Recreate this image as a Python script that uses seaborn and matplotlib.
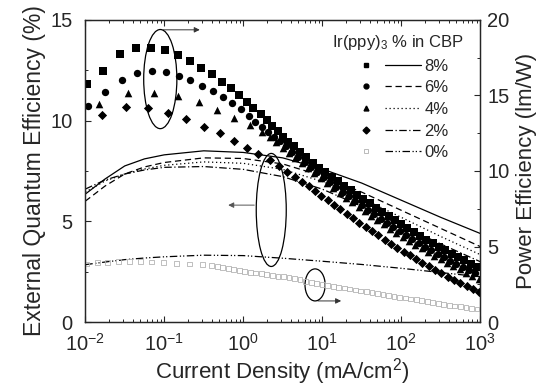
import numpy as np
import pandas as pd
import matplotlib
matplotlib.use("Agg")
import matplotlib.pyplot as plt
import seaborn as sns
from matplotlib.patches import Ellipse
from matplotlib.lines import Line2D
from matplotlib.legend_handler import HandlerTuple
from matplotlib.ticker import MultipleLocator, LogLocator, NullFormatter

# ---------------- data (log10 of current density in mA/cm2) ----------------
# EQE curves (left axis, %)
logj_eqe = [-2, -1.75, -1.5, -1.25, -1, -0.5, 0, 0.5, 1, 1.5, 2, 2.5, 3]
eqe_8 = [6.35, 7.1, 7.75, 8.1, 8.3, 8.5, 8.42, 8.15, 7.6, 6.9, 6.05, 5.2, 4.4]
eqe_6 = [6.0, 6.75, 7.35, 7.7, 7.92, 8.15, 8.12, 7.85, 7.25, 6.45, 5.55, 4.65, 3.75]
eqe_4 = [6.45, 7.0, 7.35, 7.6, 7.78, 7.95, 7.88, 7.58, 6.98, 6.15, 5.2, 4.25, 3.35]
eqe_2 = [6.6, 7.05, 7.35, 7.55, 7.68, 7.72, 7.58, 7.22, 6.6, 5.75, 4.8, 3.88, 3.0]
eqe_0 = [2.85, 2.98, 3.1, 3.18, 3.24, 3.32, 3.3, 3.17, 3.02, 2.86, 2.67, 2.46, 2.25]

# power efficiency points (right axis, lm/W)
logj_pe8 = [-1.98, -1.77, -1.56, -1.36, -1.17, -0.99, -0.83, -0.68, -0.53, -0.40,
            -0.27, -0.16, -0.05, 0.05, 0.13, 0.22, 0.30, 0.36, 0.44, 0.51, 0.57,
            0.64, 0.72, 0.80, 0.88, 0.96, 1.04, 1.12, 1.20, 1.28, 1.36, 1.44, 1.52,
            1.60, 1.68, 1.76, 1.84, 1.92, 2.00, 2.08, 2.16, 2.24, 2.32, 2.40, 2.48,
            2.56, 2.64, 2.72, 2.80, 2.88, 2.96]
pe_8 = [15.76, 16.62, 17.73, 18.13, 18.13, 17.99, 17.68, 17.28, 16.84, 16.42,
        15.91, 15.48, 15.03, 14.59, 14.19, 13.77, 13.38, 13.00, 12.65, 12.27, 11.94,
        11.62, 11.26, 10.90, 10.56, 10.22, 9.92, 9.62, 9.32, 9.02, 8.72, 8.43, 8.14,
        7.86, 7.58, 7.30, 7.02, 6.75, 6.48, 6.22, 5.96, 5.71, 5.46, 5.22, 4.98,
        4.75, 4.52, 4.30, 4.08, 3.87, 3.66]

logj_pe6 = [-1.96, -1.75, -1.54, -1.35, -1.16, -0.98, -0.81, -0.67, -0.52, -0.38,
            -0.26, -0.14, -0.03, 0.07, 0.15, 0.24, 0.32, 0.39, 0.46, 0.54, 0.62,
            0.70, 0.78, 0.86, 0.94, 1.02, 1.10, 1.18, 1.26, 1.34, 1.42, 1.50, 1.58,
            1.66, 1.74, 1.82, 1.90, 1.98, 2.06, 2.14, 2.22, 2.30, 2.38, 2.46, 2.54,
            2.62, 2.70, 2.78, 2.86, 2.94]
pe_6 = [14.30, 15.23, 16.03, 16.51, 16.62, 16.56, 16.29, 16.03, 15.65, 15.30,
        14.88, 14.52, 14.09, 13.64, 13.26, 12.93, 12.60, 12.27, 11.96, 11.62, 11.28,
        10.94, 10.60, 10.26, 9.93, 9.60, 9.28, 8.96, 8.64, 8.33, 8.02, 7.72, 7.42,
        7.13, 6.84, 6.56, 6.28, 6.01, 5.75, 5.49, 5.24, 4.99, 4.75, 4.52, 4.29,
        4.07, 3.85, 3.64, 3.44, 3.24]

logj_pe4 = [-1.83, -1.46, -1.13, -0.82, -0.56, -0.33, -0.12, 0.08, 0.24, 0.34,
            0.42, 0.50, 0.58, 0.66, 0.74, 0.82, 0.90, 0.98, 1.06, 1.14, 1.22, 1.30,
            1.38, 1.46, 1.54, 1.62, 1.70, 1.78, 1.86, 1.94, 2.02, 2.10, 2.18, 2.26,
            2.34, 2.42, 2.50, 2.58, 2.66, 2.74, 2.82, 2.90, 2.98]
pe_4 = [14.44, 15.15, 15.19, 14.99, 14.55, 14.04, 13.49, 13.05, 12.60, 12.25,
        11.90, 11.55, 11.20, 10.86, 10.52, 10.18, 9.85, 9.52, 9.19, 8.87, 8.55, 8.24,
        7.93, 7.63, 7.33, 7.04, 6.75, 6.47, 6.19, 5.92, 5.65, 5.39, 5.13, 4.88,
        4.63, 4.39, 4.16, 3.93, 3.71, 3.49, 3.28, 3.07, 2.87]

logj_pe2 = [-1.79, -1.49, -1.21, -0.95, -0.72, -0.50, -0.30, -0.12, 0.05, 0.19,
            0.34, 0.45, 0.55, 0.66, 0.75, 0.83, 0.91, 0.99, 1.07, 1.15, 1.23, 1.31,
            1.39, 1.47, 1.55, 1.63, 1.71, 1.79, 1.87, 1.95, 2.03, 2.11, 2.19, 2.27,
            2.35, 2.43, 2.51, 2.59, 2.67, 2.75, 2.83, 2.91, 2.99]
pe_2 = [13.71, 14.26, 14.15, 13.86, 13.44, 12.93, 12.50, 11.99, 11.54, 11.11,
        10.73, 10.33, 9.95, 9.62, 9.28, 8.98, 8.67, 8.36, 8.06, 7.76, 7.46, 7.16,
        6.87, 6.58, 6.29, 6.01, 5.73, 5.46, 5.19, 4.93, 4.67, 4.42, 4.17, 3.93,
        3.69, 3.46, 3.23, 3.01, 2.80, 2.59, 2.39, 2.20, 2.02]

logj_pe0 = [-1.98, -1.85, -1.72, -1.58, -1.44, -1.30, -1.16, -1.01, -0.84, -0.68,
            -0.52, -0.40, -0.33, -0.26, -0.19, -0.12, -0.05, 0.02, 0.09, 0.16, 0.23,
            0.30, 0.37, 0.44, 0.51, 0.58, 0.65, 0.72, 0.79, 0.86, 0.93, 1.00, 1.07,
            1.14, 1.21, 1.28, 1.35, 1.42, 1.49, 1.56, 1.63, 1.70, 1.77, 1.84, 1.91,
            1.98, 2.05, 2.12, 2.19, 2.26, 2.33, 2.40, 2.47, 2.54, 2.61, 2.68, 2.75,
            2.82, 2.89, 2.96]
pe_0 = [3.85, 3.92, 3.97, 4.00, 4.01, 4.00, 3.98, 3.94, 3.89, 3.84,
        3.79, 3.75, 3.68, 3.61, 3.54, 3.47, 3.41, 3.35, 3.30, 3.25, 3.20,
        3.14, 3.09, 3.04, 2.99, 2.93, 2.88, 2.80, 2.71, 2.63, 2.56, 2.49, 2.43,
        2.37, 2.31, 2.25, 2.19, 2.12, 2.06, 2.00, 1.95, 1.89, 1.83, 1.77, 1.71,
        1.65, 1.59, 1.53, 1.47, 1.41, 1.35, 1.29, 1.23, 1.17, 1.12, 1.07, 1.02,
        0.97, 0.92, 0.87]

doping = ["8%", "6%", "4%", "2%", "0%"]

# ---------------- style ----------------
sns.set_style("ticks")
plt.rcParams["font.family"] = ["Liberation Sans", "DejaVu Sans"]
plt.rcParams["mathtext.fontset"] = "custom"
plt.rcParams["mathtext.rm"] = "Liberation Sans"
plt.rcParams["mathtext.it"] = "Liberation Sans:italic"
plt.rcParams["axes.linewidth"] = 0.9

fig, ax = plt.subplots(figsize=(5.5, 3.89), dpi=100)
fig.subplots_adjust(left=0.155, right=0.873, bottom=0.172, top=0.949)
ax2 = ax.twinx()

line_styles = {
    "8%": "-",
    "6%": (0, (5, 3)),
    "4%": (0, (1, 2.2)),
    "2%": (0, (6, 2, 1, 2)),
    "0%": (0, (6, 2, 1, 1.6, 1, 2)),
}
eqe_data = {"8%": eqe_8, "6%": eqe_6, "4%": eqe_4, "2%": eqe_2, "0%": eqe_0}
for lab in doping:
    df = pd.DataFrame({"J": 10 ** np.array(logj_eqe), "eqe": eqe_data[lab]})
    sns.lineplot(data=df, x="J", y="eqe", ax=ax, color="black", lw=0.9,
                 linestyle=line_styles[lab], legend=False)

markers = {"8%": "s", "6%": "o", "4%": "^", "2%": "D"}
msize = {"8%": 26, "6%": 28, "4%": 30, "2%": 22}
pe_data = {"8%": (logj_pe8, pe_8), "6%": (logj_pe6, pe_6),
           "4%": (logj_pe4, pe_4), "2%": (logj_pe2, pe_2)}
for lab in ["8%", "6%", "4%", "2%"]:
    lx, py = pe_data[lab]
    df = pd.DataFrame({"J": 10 ** np.array(lx), "pe": py})
    sns.scatterplot(data=df, x="J", y="pe", ax=ax2, marker=markers[lab],
                    s=msize[lab], color="black", linewidth=0, legend=False)

df0 = pd.DataFrame({"J": 10 ** np.array(logj_pe0), "pe": pe_0})
ax2.scatter(df0["J"], df0["pe"], marker="s", s=12, facecolors="none",
            edgecolors="#b4b4b4", linewidths=0.6)

# ---------------- axes ----------------
ax.set_xscale("log")
ax.set_xlim(1e-2, 1e3)
ax.set_ylim(0, 15)
ax2.set_ylim(0, 20)
ax.yaxis.set_major_locator(MultipleLocator(5))
ax.yaxis.set_minor_locator(MultipleLocator(2.5))
ax2.yaxis.set_major_locator(MultipleLocator(5))
ax2.yaxis.set_minor_locator(MultipleLocator(2.5))
ax.xaxis.set_major_locator(LogLocator(base=10, numticks=10))
ax.xaxis.set_minor_locator(LogLocator(base=10, subs=np.arange(2, 10), numticks=20))
ax.xaxis.set_minor_formatter(NullFormatter())

ax.tick_params(which="both", direction="in", top=True, right=False, labelsize=14.5)
ax.tick_params(axis="y", pad=9)
ax.tick_params(axis="x", pad=8)
ax.tick_params(which="major", length=4, width=0.8)
ax.tick_params(which="minor", length=2.2, width=0.7)
ax2.tick_params(which="both", direction="in", labelsize=14.5, pad=5)
ax2.tick_params(which="major", length=4, width=0.8)
ax2.tick_params(which="minor", length=2.2, width=0.7)

ax.set_xlabel("Current Density (mA/cm$^2$)", fontsize=16, labelpad=1)
ax.set_ylabel("External Quantum Efficiency (%)", fontsize=16.5, labelpad=3)
ax2.set_ylabel("Power Efficiency (lm/W)", fontsize=16, labelpad=5)

# ---------------- ellipses and arrows ----------------
ax.add_patch(Ellipse((0.19, 0.804), 0.084, 0.328, transform=ax.transAxes,
                     fill=False, lw=0.9, ec="black", zorder=5))
ax.annotate("", xy=(0.297, 0.967), xytext=(0.19, 0.967), xycoords="axes fraction",
            arrowprops=dict(arrowstyle="-|>", lw=0.7, color="#333333", mutation_scale=8))
ax.add_patch(Ellipse((0.471, 0.371), 0.076, 0.374, transform=ax.transAxes,
                     fill=False, lw=0.9, ec="black", zorder=5))
ax.annotate("", xy=(0.355, 0.387), xytext=(0.435, 0.387), xycoords="axes fraction",
            arrowprops=dict(arrowstyle="-|>", lw=0.7, color="#555555", mutation_scale=8))
ax.add_patch(Ellipse((0.582, 0.123), 0.051, 0.106, transform=ax.transAxes,
                     fill=False, lw=0.9, ec="black", zorder=5))
ax.annotate("", xy=(0.655, 0.07), xytext=(0.582, 0.07), xycoords="axes fraction",
            arrowprops=dict(arrowstyle="-|>", lw=0.7, color="#333333", mutation_scale=8))

# ---------------- legend ----------------
handles = []
for lab in doping:
    if lab == "0%":
        mk = Line2D([], [], marker="s", ls="none", mfc="none", mec="#b0b0b0", ms=3.5, mew=0.6)
    else:
        mk = Line2D([], [], marker=markers[lab], ls="none", color="black", ms=3.5)
    ln = Line2D([], [], color="black", lw=0.9, linestyle=line_styles[lab])
    handles.append((mk, ln))
leg = ax2.legend(handles, doping, handler_map={tuple: HandlerTuple(ndivide=None, pad=0.1)},
                 loc="upper right", bbox_to_anchor=(0.985, 0.99), frameon=False,
                 title="Ir(ppy)$_3$ % in CBP", title_fontsize=12, fontsize=12,
                 handlelength=4.4, handletextpad=0.2, labelspacing=0.4, borderaxespad=0.2)

fig.savefig("out.png", dpi=100)
